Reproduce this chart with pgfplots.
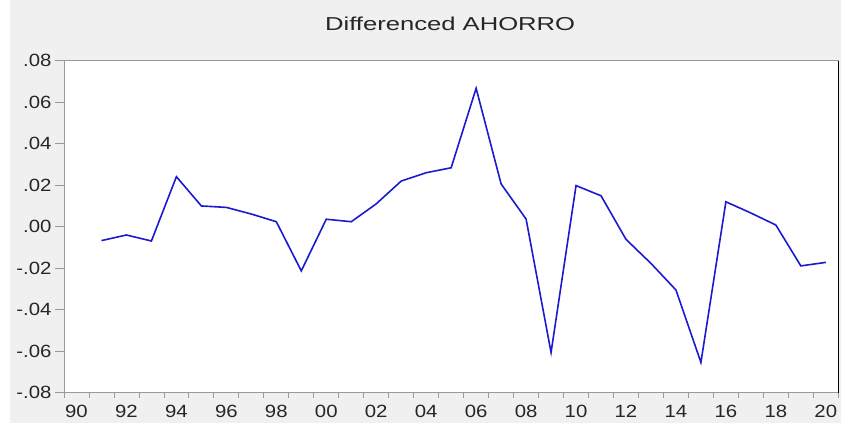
\documentclass[border=0pt]{standalone}
\usepackage{fontspec}
\setmainfont{Liberation Sans}
\usepackage{graphicx}
\usepackage{pgfplots}
\pgfplotsset{compat=1.18}

\definecolor{panelgray}{HTML}{F0F0F0}
\definecolor{seriesblue}{HTML}{1A1AD0}

% the reference text is a little wider than Arial
\newcommand{\tl}[1]{\scalebox{1.15}[1]{#1}}

\begin{document}
\begin{tikzpicture}
	% page and panel background
	\path (-64pt,-30.3pt) rectangle (777pt,392.7pt);
	\fill[panelgray] (-54pt,-30.3pt) rectangle (777pt,392.7pt);
	\begin{axis}[
			at={(0pt,0pt)}, anchor=south west,
			scale only axis,
			width=774.3pt, height=332pt,
			clip=false,
			axis background/.style={fill=white},
			axis line style={draw=gray!80},
			xmin=1990, xmax=2021,
			ymin=-0.08, ymax=0.08,
			xtick={1990.5,1992.5,...,2020.5},
			xticklabels={\tl{90},\tl{92},\tl{94},\tl{96},\tl{98},\tl{00},\tl{02},\tl{04},\tl{06},\tl{08},\tl{10},\tl{12},\tl{14},\tl{16},\tl{18},\tl{20}},
			minor xtick={1990,1991,...,2021},
			major x tick style={draw=none},
			ytick={-0.08,-0.06,-0.04,-0.02,0,0.02,0.04,0.06,0.08},
			yticklabels={\tl{-.08},\tl{-.06},\tl{-.04},\tl{-.02},\tl{.00},\tl{.02},\tl{.04},\tl{.06},\tl{.08}},
			scaled y ticks=false,
			tick align=outside,
			xtick pos=bottom, ytick pos=left,
			major tick length=9pt, minor tick length=5pt,
			tick style={gray!80, line width=0.8pt},
			tick label style={font=\fontsize{17.7}{17.7}\selectfont, text=black!85},
			/pgf/number format/assume math mode=true,
		]
		\addplot[seriesblue, line width=1.6pt] coordinates {
			(1991.5,-0.0067)
			(1992.5,-0.0040)
			(1993.5,-0.0069)
			(1994.5,0.0241)
			(1995.5,0.0100)
			(1996.5,0.0093)
			(1997.5,0.0061)
			(1998.5,0.0024)
			(1999.5,-0.0213)
			(2000.5,0.0036)
			(2001.5,0.0024)
			(2002.5,0.0110)
			(2003.5,0.0220)
			(2004.5,0.0260)
			(2005.5,0.0284)
			(2006.5,0.0667)
			(2007.5,0.0206)
			(2008.5,0.0037)
			(2009.5,-0.0606)
			(2010.5,0.0198)
			(2011.5,0.0149)
			(2012.5,-0.0061)
			(2013.5,-0.0177)
			(2014.5,-0.0305)
			(2015.5,-0.0654)
			(2016.5,0.0120)
			(2017.5,0.0066)
			(2018.5,0.0008)
			(2019.5,-0.0189)
			(2020.5,-0.0172)
		};
		\draw[black, line width=1.2pt] (rel axis cs:1,0) -- (rel axis cs:1,1);
		\node[font=\fontsize{18.7}{18.7}\selectfont, text=black!85] at (rel axis cs:0.5,1) [yshift=36.7pt, xshift=-1pt] {\scalebox{1.37}[1]{Differenced AHORRO}};
	\end{axis}
\end{tikzpicture}
\end{document}
